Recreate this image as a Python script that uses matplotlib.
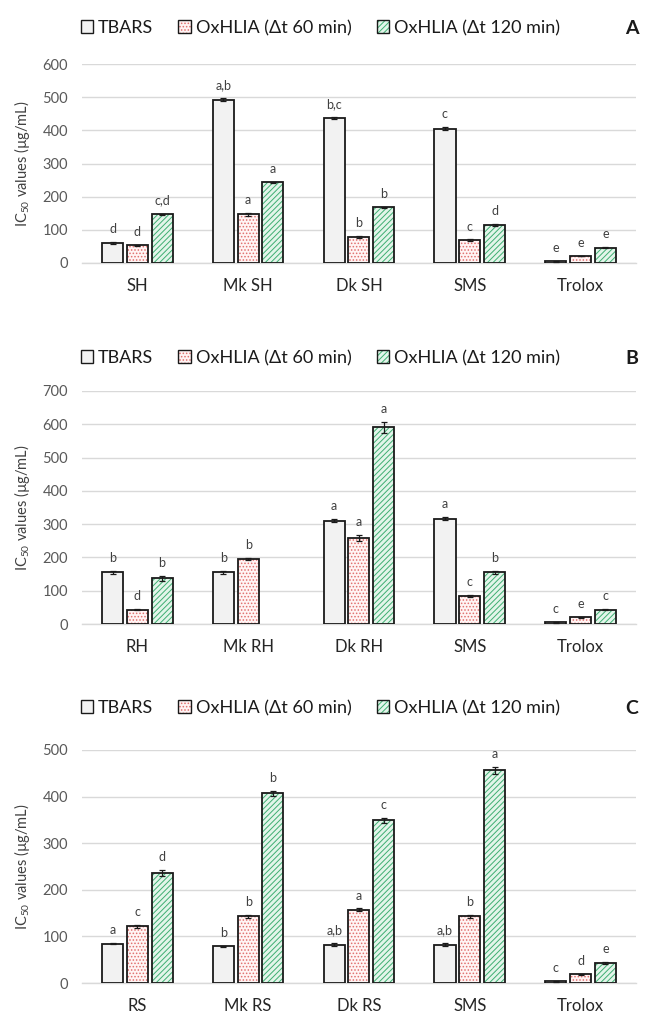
import numpy as np
import matplotlib
matplotlib.use("Agg")
import matplotlib.pyplot as plt
from matplotlib.patches import Patch

plt.rcParams['font.family'] = ['Lato', 'DejaVu Sans']
plt.rcParams['mathtext.fontset'] = 'custom'
plt.rcParams['mathtext.rm'] = 'Lato'
plt.rcParams['mathtext.it'] = 'Lato:italic'
plt.rcParams['hatch.linewidth'] = 0.7

series = ['TBARS', 'OxHLIA (Δt 60 min)', 'OxHLIA (Δt 120 min)']

# Panel A
cats_A = ['SH', 'Mk SH', 'Dk SH', 'SMS', 'Trolox']
tbars_A = [60, 493, 437, 405, 5]
ox60_A = [53, 147, 78, 68, 21]
ox120_A = [147, 243, 168, 114, 46]
tbars_A_err = [3, 4, 4, 4, 1]
ox60_A_err = [2, 4, 3, 3, 1]
ox120_A_err = [2, 2, 2, 3, 1]
tbars_A_lab = ['d', 'a,b', 'b,c', 'c', 'e']
ox60_A_lab = ['d', 'a', 'b', 'c', 'e']
ox120_A_lab = ['c,d', 'a', 'b', 'd', 'e']

# Panel B
cats_B = ['RH', 'Mk RH', 'Dk RH', 'SMS', 'Trolox']
tbars_B = [155, 155, 310, 316, 5]
ox60_B = [43, 196, 258, 83, 20]
ox120_B = [137, None, 591, 155, 43]
tbars_B_err = [4, 4, 5, 5, 1]
ox60_B_err = [2, 3, 10, 3, 1]
ox120_B_err = [7, None, 16, 5, 1]
tbars_B_lab = ['b', 'b', 'a', 'a', 'c']
ox60_B_lab = ['d', 'b', 'a', 'c', 'e']
ox120_B_lab = ['b', None, 'a', 'b', 'c']

# Panel C
cats_C = ['RS', 'Mk RS', 'Dk RS', 'SMS', 'Trolox']
tbars_C = [84, 79, 82, 82, 4]
ox60_C = [122, 143, 157, 143, 19]
ox120_C = [236, 407, 349, 456, 43]
tbars_C_err = [1, 1, 3, 3, 1]
ox60_C_err = [3, 3, 3, 3, 1]
ox120_C_err = [6, 5, 5, 8, 2]
tbars_C_lab = ['a', 'b', 'a,b', 'a,b', 'c']
ox60_C_lab = ['c', 'b', 'a', 'b', 'd']
ox120_C_lab = ['d', 'b', 'c', 'a', 'e']

fills = ['#f2f2f2', '#fff4f4', '#e3f5ea']
hatch_cols = ['#f2f2f2', '#e0706e', '#3fae72']
hatches = [None, '.....', '//////']

panels = [
    dict(cats=cats_A, vals=[tbars_A, ox60_A, ox120_A], errs=[tbars_A_err, ox60_A_err, ox120_A_err],
         labs=[tbars_A_lab, ox60_A_lab, ox120_A_lab], ymax=600, letter='A',
         rect=[0.127, 0.7409, 0.859, 0.196], legy=1 - 28/1015),
    dict(cats=cats_B, vals=[tbars_B, ox60_B, ox120_B], errs=[tbars_B_err, ox60_B_err, ox120_B_err],
         labs=[tbars_B_lab, ox60_B_lab, ox120_B_lab], ymax=700, letter='B',
         rect=[0.127, 0.3852, 0.859, 0.2296], legy=1 - 358/1015),
    dict(cats=cats_C, vals=[tbars_C, ox60_C, ox120_C], errs=[tbars_C_err, ox60_C_err, ox120_C_err],
         labs=[tbars_C_lab, ox60_C_lab, ox120_C_lab], ymax=500, letter='C',
         rect=[0.127, 0.0315, 0.859, 0.2296], legy=1 - 708/1015),
]

fig = plt.figure(figsize=(6.45, 10.15), dpi=100)
width = 0.19
step = 0.2235
grid_col = '#d9d9d9'

for p in panels:
    ax = fig.add_axes(p['rect'])
    x = np.arange(len(p['cats']))
    for i in range(3):
        for j in range(len(x)):
            v = p['vals'][i][j]
            if v is None:
                continue
            xi = x[j] + (i - 1) * step
            ax.bar(xi, v, width, color=fills[i], edgecolor=hatch_cols[i], hatch=hatches[i],
                   linewidth=0, zorder=2)
            ax.bar(xi, v, width, fill=False, edgecolor='#1a1a1a', linewidth=1.3, zorder=3)
            e = p['errs'][i][j]
            ax.errorbar(xi, v, yerr=e, fmt='none', ecolor='#1a1a1a', elinewidth=0.9,
                        capsize=2.5, capthick=0.9, zorder=4)
            lab = p['labs'][i][j]
            if lab:
                ax.annotate(lab, (xi, v + e), xytext=(0, 5), textcoords='offset points',
                            ha='center', va='bottom', fontsize=9, color='#404040')
    ax.set_xlim(-0.5, len(x) - 0.5)
    ax.set_ylim(0, p['ymax'])
    ax.set_yticks(np.arange(0, p['ymax'] + 1, 100))
    ax.yaxis.grid(True, color=grid_col, linewidth=1.0, zorder=0)
    ax.set_axisbelow(True)
    for s in ['top', 'right', 'left']:
        ax.spines[s].set_visible(False)
    ax.spines['bottom'].set_color(grid_col)
    ax.spines['bottom'].set_linewidth(1.0)
    ax.tick_params(axis='both', length=0)
    ax.tick_params(axis='y', labelsize=10.5, labelcolor='#595959', pad=10)
    ax.tick_params(axis='x', labelsize=12, labelcolor='#262626', pad=11)
    ax.set_xticks(x)
    ax.set_xticklabels(p['cats'])
    ax.set_ylabel('IC$_{50}$ values (µg/mL)', fontsize=10.5, color='#404040', labelpad=8)
    ax.yaxis.set_label_coords(-0.09, 0.5)

    handles = []
    for i in range(3):
        h1 = Patch(facecolor=fills[i], edgecolor=hatch_cols[i], hatch=hatches[i], linewidth=0)
        h2 = Patch(fill=False, edgecolor='#1a1a1a', linewidth=1.0)
        handles.append((h1, h2))
    fig.legend(handles, series, loc='center left', bbox_to_anchor=(0.1, p['legy']),
               ncol=3, frameon=False, fontsize=13, handlelength=0.7, handleheight=0.7,
               handletextpad=0.25, columnspacing=1.4, labelcolor='#1a1a1a')
    fig.text(0.98, p['legy'], p['letter'], fontsize=14, fontweight='bold', ha='center',
             va='center', color='#1a1a1a')

fig.savefig('out.png', dpi=100)
